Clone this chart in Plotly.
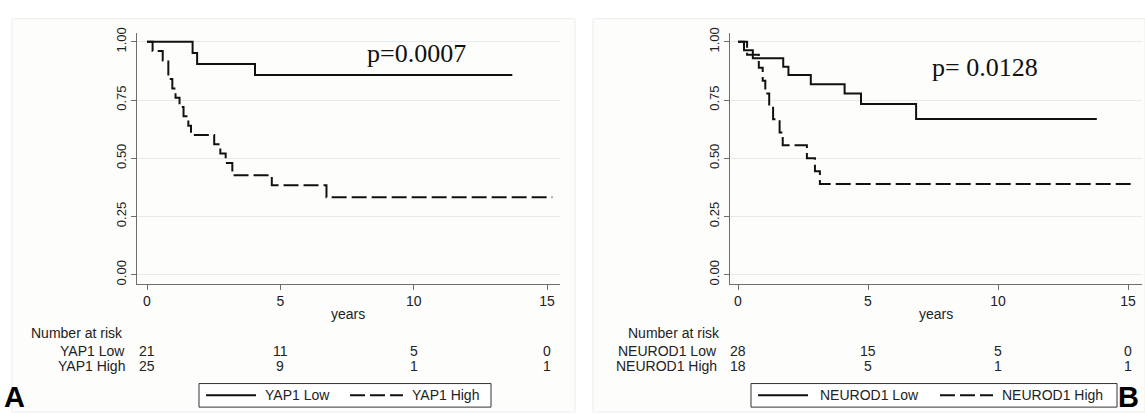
import plotly.graph_objects as go

W, H = 1145, 414

# ---------------- data ----------------
years_ticks = [0, 5, 10, 15]

a_low_t = [0, 1.71, 1.88, 4.05, 13.7]
a_low_s = [1.0, 0.952, 0.905, 0.857, 0.857]
a_high_t = [0, 0.21, 0.59, 0.80, 0.95, 1.07, 1.22, 1.37, 1.55, 1.65, 2.52, 2.75, 2.95, 3.2, 4.68, 6.73, 15.2]
a_high_s = [1.0, 0.96, 0.92, 0.84, 0.80, 0.76, 0.72, 0.68, 0.64, 0.60, 0.56, 0.52, 0.48, 0.427, 0.384, 0.333, 0.333]

b_low_t = [0, 0.23, 0.57, 1.74, 1.94, 2.8, 4.1, 4.73, 6.85, 13.8]
b_low_s = [1.0, 0.964, 0.929, 0.893, 0.857, 0.818, 0.778, 0.733, 0.669, 0.669]
b_high_t = [0, 0.35, 0.8, 0.95, 1.05, 1.2, 1.35, 1.6, 1.72, 2.65, 2.96, 3.15, 15.2]
b_high_s = [1.0, 0.944, 0.889, 0.833, 0.778, 0.722, 0.667, 0.611, 0.556, 0.5, 0.444, 0.389, 0.389]

a_groups = ["YAP1 Low", "YAP1 High"]
a_risk = [[21, 11, 5, 0], [25, 9, 1, 1]]
b_groups = ["NEUROD1 Low", "NEUROD1 High"]
b_risk = [[28, 15, 5, 0], [18, 5, 1, 1]]

a_p = "p=0.0007"
b_p = "p= 0.0128"

# ---------------- helpers ----------------
def px(x):
    return x / W

def py(y):
    return 1 - y / H

SANS = "Liberation Sans, Arial, sans-serif"
SERIF = "Liberation Serif, Times New Roman, serif"
TXT = "#222222"
AX = "#6e6e6e"
GRID = "#e5ebeb"
INK = "#111111"
DASH = "15px,5px"
FS = 14

fig = go.Figure()

solid = dict(color=INK, width=2)
dashed = dict(color=INK, width=2, dash=DASH)

fig.add_trace(go.Scatter(x=a_low_t, y=a_low_s, mode="lines", line=solid, line_shape="hv",
                         name=a_groups[0], xaxis="x", yaxis="y"))
fig.add_trace(go.Scatter(x=a_high_t, y=a_high_s, mode="lines", line=dashed, line_shape="hv",
                         name=a_groups[1], xaxis="x", yaxis="y"))
fig.add_trace(go.Scatter(x=b_low_t, y=b_low_s, mode="lines", line=solid, line_shape="hv",
                         name=b_groups[0], xaxis="x2", yaxis="y2"))
fig.add_trace(go.Scatter(x=b_high_t, y=b_high_s, mode="lines", line=dashed, line_shape="hv",
                         name=b_groups[1], xaxis="x2", yaxis="y2"))

ydom = [py(283), py(28)]
yrange = [-9 / 237.5, 1 + 8.5 / 237.5]

common_x = dict(tickvals=years_ticks, ticks="outside", ticklen=5, tickcolor=AX, tickwidth=1.3,
                showline=True, linecolor=AX, linewidth=1.3, showgrid=False, zeroline=False,
                tickfont=dict(family=SANS, size=FS, color=TXT))
common_y = dict(tickvals=[0, 0.25, 0.5, 0.75, 1.0], tickformat=".2f", tickangle=-90,
                ticks="outside", ticklen=5, tickcolor=AX, tickwidth=1.3,
                showline=True, linecolor=AX, linewidth=1.3, showgrid=True, gridcolor=GRID,
                gridwidth=1, zeroline=False, range=yrange, domain=ydom,
                tickfont=dict(family=SANS, size=13, color=TXT))

a_ppy = 26.667
b_ppy = 26.0
fig.update_layout(
    width=W, height=H,
    margin=dict(l=0, r=0, t=0, b=0),
    paper_bgcolor="white",
    plot_bgcolor="rgba(0,0,0,0)",
    showlegend=False,
    xaxis=dict(domain=[px(137), px(560)], range=[-10 / a_ppy, 15 + 13 / a_ppy], anchor="y", **common_x),
    yaxis=dict(anchor="x", **common_y),
    xaxis2=dict(domain=[px(730), px(1142)], range=[-8 / b_ppy, 15 + 14 / b_ppy], anchor="y2", **common_x),
    yaxis2=dict(anchor="x2", **common_y),
)

# panel background boxes
for x0, x1 in [(12, 575), (593, 1145)]:
    fig.add_shape(type="rect", xref="paper", yref="paper", x0=px(x0), x1=px(x1), y0=0, y1=py(13),
                  line=dict(color="#ececec", width=1), fillcolor="#fdfdfb", layer="below")

ann = []
def text(x, y, s, xref="paper", size=FS, xanchor="center", family=SANS, color=TXT):
    ann.append(dict(x=x, y=y, xref=xref, yref="paper", text=s, showarrow=False,
                    xanchor=xanchor, yanchor="middle",
                    font=dict(family=family, size=size, color=color)))

# axis titles
text(px(348), py(314), "years")
text(px(936), py(314), "years")

# number at risk tables
text(px(125), py(333), "Number at risk", xanchor="right")
text(px(722), py(333), "Number at risk", xanchor="right")
row_y = [352, 367]
for i in range(2):
    text(px(127), py(row_y[i]), a_groups[i], xanchor="right")
    text(px(719), py(row_y[i]), b_groups[i], xanchor="right")
    for j, t in enumerate(years_ticks):
        text(t, py(row_y[i]), str(a_risk[i][j]), xref="x")
        text(t, py(row_y[i]), str(b_risk[i][j]), xref="x2")

# legends (boxed, below each risk table)
leg_y0, leg_y1, leg_mid = 385, 409, 397
legends = [
    (199, 491, [(206, 256, solid, 263, a_groups[0]), (350, 403, dashed, 410, a_groups[1])]),
    (751, 1117, [(758, 808, solid, 818, b_groups[0]), (940, 993, dashed, 1000, b_groups[1])]),
]
for bx0, bx1, items in legends:
    fig.add_shape(type="rect", xref="paper", yref="paper", x0=px(bx0), x1=px(bx1),
                  y0=py(leg_y1), y1=py(leg_y0), line=dict(color="#333333", width=1),
                  fillcolor="white", layer="above")
    for lx0, lx1, st, tx, label in items:
        fig.add_shape(type="line", xref="paper", yref="paper", x0=px(lx0), x1=px(lx1),
                      y0=py(leg_mid), y1=py(leg_mid),
                      line=dict(color=INK, width=2, dash=st.get("dash", "solid")))
        text(px(tx), py(leg_mid), label, xanchor="left")

# p values
text(px(416), py(48), a_p, size=26, family=SERIF, color=INK)
text(px(985), py(63), b_p, size=26, family=SERIF, color=INK)

# panel letters
ann.append(dict(x=px(2), y=0, xref="paper", yref="paper", text="<b>A</b>", showarrow=False,
                xanchor="left", yanchor="bottom", yshift=-3,
                font=dict(family=SANS, size=29, color="#000000")))
ann.append(dict(x=px(1141), y=0, xref="paper", yref="paper", text="<b>B</b>", showarrow=False,
                xanchor="right", yanchor="bottom", yshift=-3,
                font=dict(family=SANS, size=29, color="#000000")))

fig.update_layout(annotations=ann)
fig.write_html("out.html")
